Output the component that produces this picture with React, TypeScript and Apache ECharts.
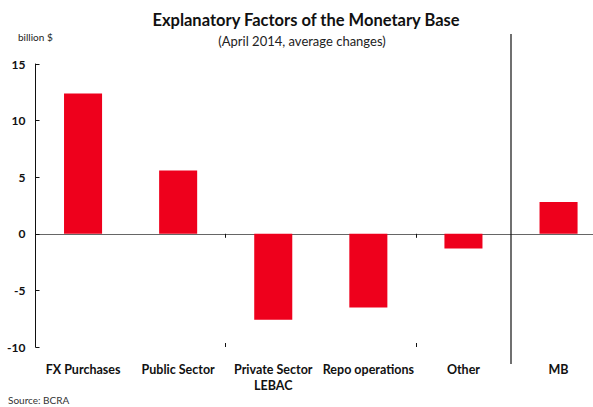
import React, { useEffect, useRef } from "react";
import * as echarts from "echarts";

const categories = ["FX Purchases", "Public Sector", "Private Sector\nLEBAC", "Repo operations", "Other", "MB"];
const values = [12.4, 5.6, -7.6, -6.5, -1.3, 2.8];
const yTicks = { min: -10, max: 15, interval: 5 };

const FONT = "Lato, 'Open Sans', sans-serif";

export default function App() {
  const ref = useRef<HTMLDivElement>(null);
  useEffect(() => {
    if (!ref.current) return;
    const chart = echarts.init(ref.current, undefined, { renderer: "svg" });
    chart.setOption({
      animation: false,
      backgroundColor: "#ffffff",
      grid: { left: 35.5, top: 64, width: 570.6, height: 283, containLabel: false },
      title: [
        {
          text: "Explanatory Factors of the Monetary Base",
          left: 306,
          top: 11,
          padding: 0,
          textAlign: "center",
          textStyle: { fontFamily: FONT, fontSize: 16.5, fontWeight: "bold", color: "#111" },
        },
        {
          text: "(April 2014, average changes)",
          left: 302,
          top: 34,
          padding: 0,
          textAlign: "center",
          textStyle: { fontFamily: FONT, fontSize: 13, fontWeight: "normal", color: "#222" },
        },
        {
          text: "billion $",
          left: 18,
          top: 32,
          padding: 0,
          textStyle: { fontFamily: FONT, fontSize: 10, fontWeight: "normal", color: "#222" },
        },
        {
          text: "Source: BCRA",
          left: 8,
          top: 395,
          padding: 0,
          textStyle: { fontFamily: FONT, fontSize: 10, fontWeight: "normal", color: "#333" },
        },
      ],
      xAxis: [
        {
          type: "category",
          data: categories,
          position: "bottom",
          axisLine: { onZero: true, lineStyle: { color: "#666", width: 1 } },
          axisTick: { show: true, inside: false, length: 4, lineStyle: { color: "#111" } },
          axisLabel: { show: false },
          splitLine: { show: false },
        },
        {
          type: "category",
          data: categories,
          position: "bottom",
          axisLine: { show: false, onZero: true },
          axisTick: { show: true, inside: true, length: 4, lineStyle: { color: "#111" } },
          axisLabel: { show: false },
          splitLine: { show: false },
        },
        {
          type: "category",
          data: categories,
          position: "bottom",
          offset: 0,
          axisLine: { show: false, onZero: false },
          axisTick: { show: false },
          axisLabel: {
            show: true,
            margin: 14,
            interval: 0,
            fontFamily: FONT,
            fontSize: 12.5,
            fontWeight: "bold",
            color: "#111",
            lineHeight: 16,
          },
          splitLine: { show: false },
        },
      ],
      yAxis: {
        type: "value",
        min: yTicks.min,
        max: yTicks.max,
        interval: yTicks.interval,
        axisLine: { show: true, lineStyle: { color: "#111", width: 1 } },
        axisTick: { show: true, inside: true, length: 4, lineStyle: { color: "#111" } },
        axisLabel: {
          margin: 10,
          fontFamily: FONT,
          fontSize: 12,
          fontWeight: "bold",
          color: "#111",
        },
        splitLine: { show: false },
      },
      series: [
        {
          type: "bar",
          xAxisIndex: 0,
          data: values,
          barWidth: "40%",
          itemStyle: { color: "#ee001c" },
        },
      ],
      graphic: [
        {
          type: "line",
          shape: { x1: 511, y1: 34, x2: 511, y2: 364 },
          style: { stroke: "#111", lineWidth: 1.2 },
          z: 100,
        },
      ],
    });
    return () => chart.dispose();
  }, []);
  return (
    <div style={{ position: "fixed", left: 0, top: 0, width: 593, height: 407, overflow: "hidden", background: "#fff" }}>
      <div ref={ref} style={{ width: 620, height: 407 }} />
    </div>
  );
}
